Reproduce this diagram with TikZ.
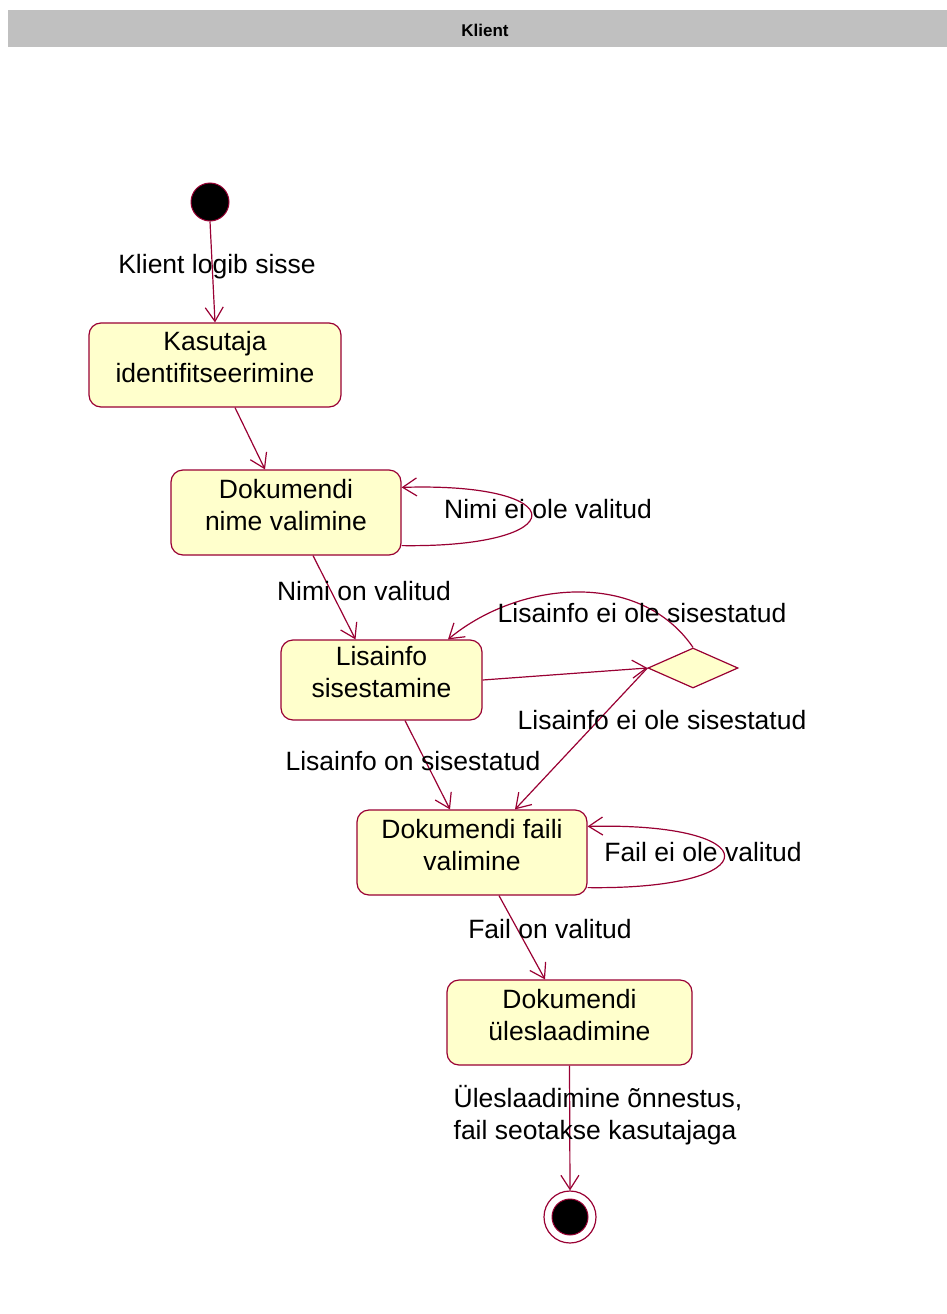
\documentclass[tikz,border=0pt]{standalone}
\usepackage{fontspec}
\setmainfont{Liberation Sans}
\usepackage{xcolor}
\usepackage{tikz}
\usetikzlibrary{arrows.meta,shapes.geometric}
\definecolor{RoseLine}{HTML}{990033}
\definecolor{RoseFill}{HTML}{FFFFCC}
\definecolor{LaneGray}{HTML}{C0C0C0}
\tikzset{
  activity/.style={draw=RoseLine, fill=RoseFill, rounded corners=12pt, align=center,
                   line width=1.2pt, inner sep=0pt, text depth=16pt,
                   font=\fontsize{26.5}{32}\selectfont},
  choice/.style={diamond, draw=RoseLine, fill=RoseFill, line width=1.2pt,
                 minimum width=90pt, minimum height=40pt, inner sep=0pt},
  startdot/.style={circle, draw=RoseLine, fill=black, line width=1pt, minimum size=38pt, inner sep=0pt},
  endring/.style={circle, draw=RoseLine, fill=white, line width=1.2pt, minimum size=52pt, inner sep=0pt},
  enddot/.style={circle, draw=RoseLine, fill=black, line width=1pt, minimum size=36pt, inner sep=0pt},
  lbl/.style={inner sep=0pt, align=left, font=\fontsize{26.5}{32}\selectfont},
  lane/.style={fill=LaneGray, inner sep=0pt, font=\fontsize{17}{20}\selectfont\bfseries},
  trans/.style={draw=RoseLine, line width=1.2pt,
                -{Straight Barb[length=14pt, width=18pt, line width=1.2pt]}}
}
\begin{document}
\begin{tikzpicture}[x=1pt, y=-1pt]
  \useasboundingbox (0,0) rectangle (947,1314);
  \node[lane, minimum width=954pt, minimum height=37pt, text height=17pt, text depth=0pt] (lane) at (485,28.5) {Klient};

  \node[startdot] (start) at (210,202) {};
  \node[activity, minimum width=252pt, minimum height=84pt] (kasutaja) at (215,365) {Kasutaja\\identifitseerimine};
  \node[activity, minimum width=230pt, minimum height=85pt] (nimevalik) at (286,512.5) {Dokumendi\\nime valimine};
  \node[activity, minimum width=201pt, minimum height=80pt] (lisainfo) at (381.5,680) {Lisainfo\\sisestamine};
  \node[choice] (otsus) at (693,668) {};
  \node[activity, minimum width=230pt, minimum height=85pt] (failvalik) at (472,852.5) {Dokumendi faili\\valimine};
  \node[activity, minimum width=245pt, minimum height=85pt] (upload) at (569.5,1022.5) {Dokumendi\\üleslaadimine};
  \node[endring] (end) at (570,1217) {};
  \node[enddot] (endcore) at (end) {};

  % transitions
  \draw[trans] (start.south) -- (kasutaja.north);
  \draw[trans] ([xshift=20pt]kasutaja.south) -- ([xshift=-21pt]nimevalik.north);
  \draw[trans] ([yshift=10pt]nimevalik.south east) .. controls (575,548) and (575,482) .. ([yshift=-18pt]nimevalik.north east);
  \draw[trans] ([xshift=27pt]nimevalik.south) -- ([xshift=-26pt]lisainfo.north);
  \draw[trans] (lisainfo.east) -- (otsus.west);
  \draw[trans] (otsus.north) .. controls (640,570) and (520,580) .. ([xshift=66.5pt]lisainfo.north);
  \draw[trans] (otsus.west) -- ([xshift=43pt]failvalik.north);
  \draw[trans] ([xshift=23.5pt]lisainfo.south) -- ([xshift=-22pt]failvalik.north);
  \draw[trans] ([yshift=8pt]failvalik.south east) .. controls (770,890) and (770,822) .. ([yshift=-17pt]failvalik.north east);
  \draw[trans] ([xshift=27pt]failvalik.south) -- ([xshift=-24.5pt]upload.north);
  \draw[trans] (upload.south) -- (end.north);

  % labels
  \node[lbl] (l1) at (217,267) {Klient logib sisse};
  \node[lbl] (l2) at (548,509) {Nimi ei ole valitud};
  \node[lbl] (l3) at (364,591) {Nimi on valitud};
  \node[lbl] (l4) at (642,613) {Lisainfo ei ole sisestatud};
  \node[lbl] (l5) at (662,720) {Lisainfo ei ole sisestatud};
  \node[lbl] (l6) at (413,761) {Lisainfo on sisestatud};
  \node[lbl] (l7) at (703,852) {Fail ei ole valitud};
  \node[lbl] (l8) at (550,929) {Fail on valitud};
  \node[lbl] (l9) at (598,1115) {Üleslaadimine õnnestus,\\fail seotakse kasutajaga};
\end{tikzpicture}
\end{document}
